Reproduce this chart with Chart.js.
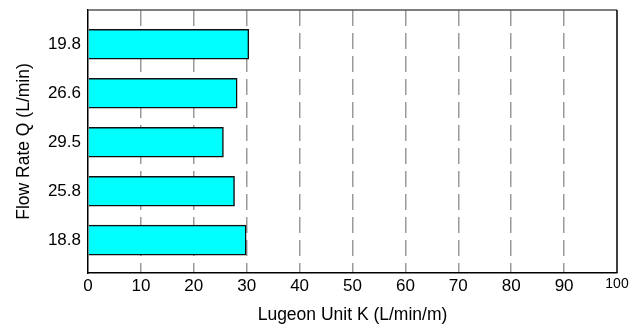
<!DOCTYPE html>
<html><head><meta charset="utf-8">
<script src="https://cdn.jsdelivr.net/npm/chart.js@4"></script>
<style>html,body{margin:0;padding:0;background:#fff}</style>
</head><body>
<canvas id="c" width="642" height="327"></canvas>
<script>
const categories = ['19.8', '26.6', '29.5', '25.8', '18.8'];
const values = [30.4, 28.2, 25.6, 27.7, 29.9];
const xTickValues = [0, 10, 20, 30, 40, 50, 60, 70, 80, 90, 100];
const xTitle = 'Lugeon Unit K (L/min/m)';
const yTitle = 'Flow Rate Q (L/min)';

const FONT = '"Liberation Sans", Arial, sans-serif';

const framePlugin = {
  id: 'frame',
  afterDraw(chart) {
    const {ctx, chartArea: a} = chart;
    ctx.save();
    ctx.lineWidth = 1.5;
    ctx.strokeStyle = '#555';
    ctx.beginPath(); ctx.moveTo(a.left, a.top); ctx.lineTo(a.right, a.top); ctx.stroke();
    ctx.strokeStyle = '#000';
    ctx.beginPath(); ctx.moveTo(a.right, a.top); ctx.lineTo(a.right, a.bottom); ctx.stroke();
    ctx.restore();
  }
};

new Chart(document.getElementById('c'), {
  type: 'bar',
  data: {
    datasets: [{
      data: values.map((v, i) => ({x: v, y: i + 1})),
      backgroundColor: '#00FFFF',
      borderColor: '#111',
      borderWidth: 1.5,
      barThickness: 30
    }]
  },
  options: {
    indexAxis: 'y',
    responsive: false,
    animation: false,
    devicePixelRatio: 1,
    layout: {padding: {top: 10, right: 25, left: 0, bottom: 0}},
    plugins: {legend: {display: false}, tooltip: {enabled: false}},
    scales: {
      x: {
        type: 'linear',
        min: 0, max: 100,
        afterBuildTicks: s => { s.ticks = xTickValues.map(v => ({value: v})); },
        afterFit: s => { s.height = 54; s.paddingLeft = 0; s.paddingRight = 0; },
        ticks: {
          color: '#000',
          padding: 3,
          maxRotation: 0,
          font: ctx => ({family: FONT, size: (ctx.tick && ctx.tick.value === 100) ? 14 : 17})
        },
        grid: {
          drawTicks: false,
          lineWidth: 1.5,
          color: ctx => (ctx.tick && (ctx.tick.value === 0 || ctx.tick.value === 100)) ? 'rgba(0,0,0,0)' : '#9a9a9a'
        },
        border: {display: true, color: '#000', width: 1.5, dash: [16, 7]},
        title: {display: true, text: xTitle, color: '#000', font: {family: FONT, size: 17.5}, padding: {top: 0, bottom: 1}}
      },
      y: {
        type: 'linear',
        reverse: true,
        offset: false,
        min: 0.3, max: 5.67,
        afterBuildTicks: s => { s.ticks = categories.map((c, i) => ({value: i + 1})); },
        afterFit: s => { s.width = 88; s.paddingTop = 0; s.paddingBottom = 0; },
        ticks: {
          color: '#000',
          padding: 7,
          font: {family: FONT, size: 17},
          callback: v => categories[v - 1]
        },
        grid: {display: false, drawTicks: false},
        border: {display: true, color: '#000', width: 1.5},
        title: {display: true, text: yTitle, color: '#000', font: {family: FONT, size: 17.5}, padding: {top: 14, bottom: 0}}
      }
    }
  },
  plugins: [framePlugin]
});
</script>
</body></html>
